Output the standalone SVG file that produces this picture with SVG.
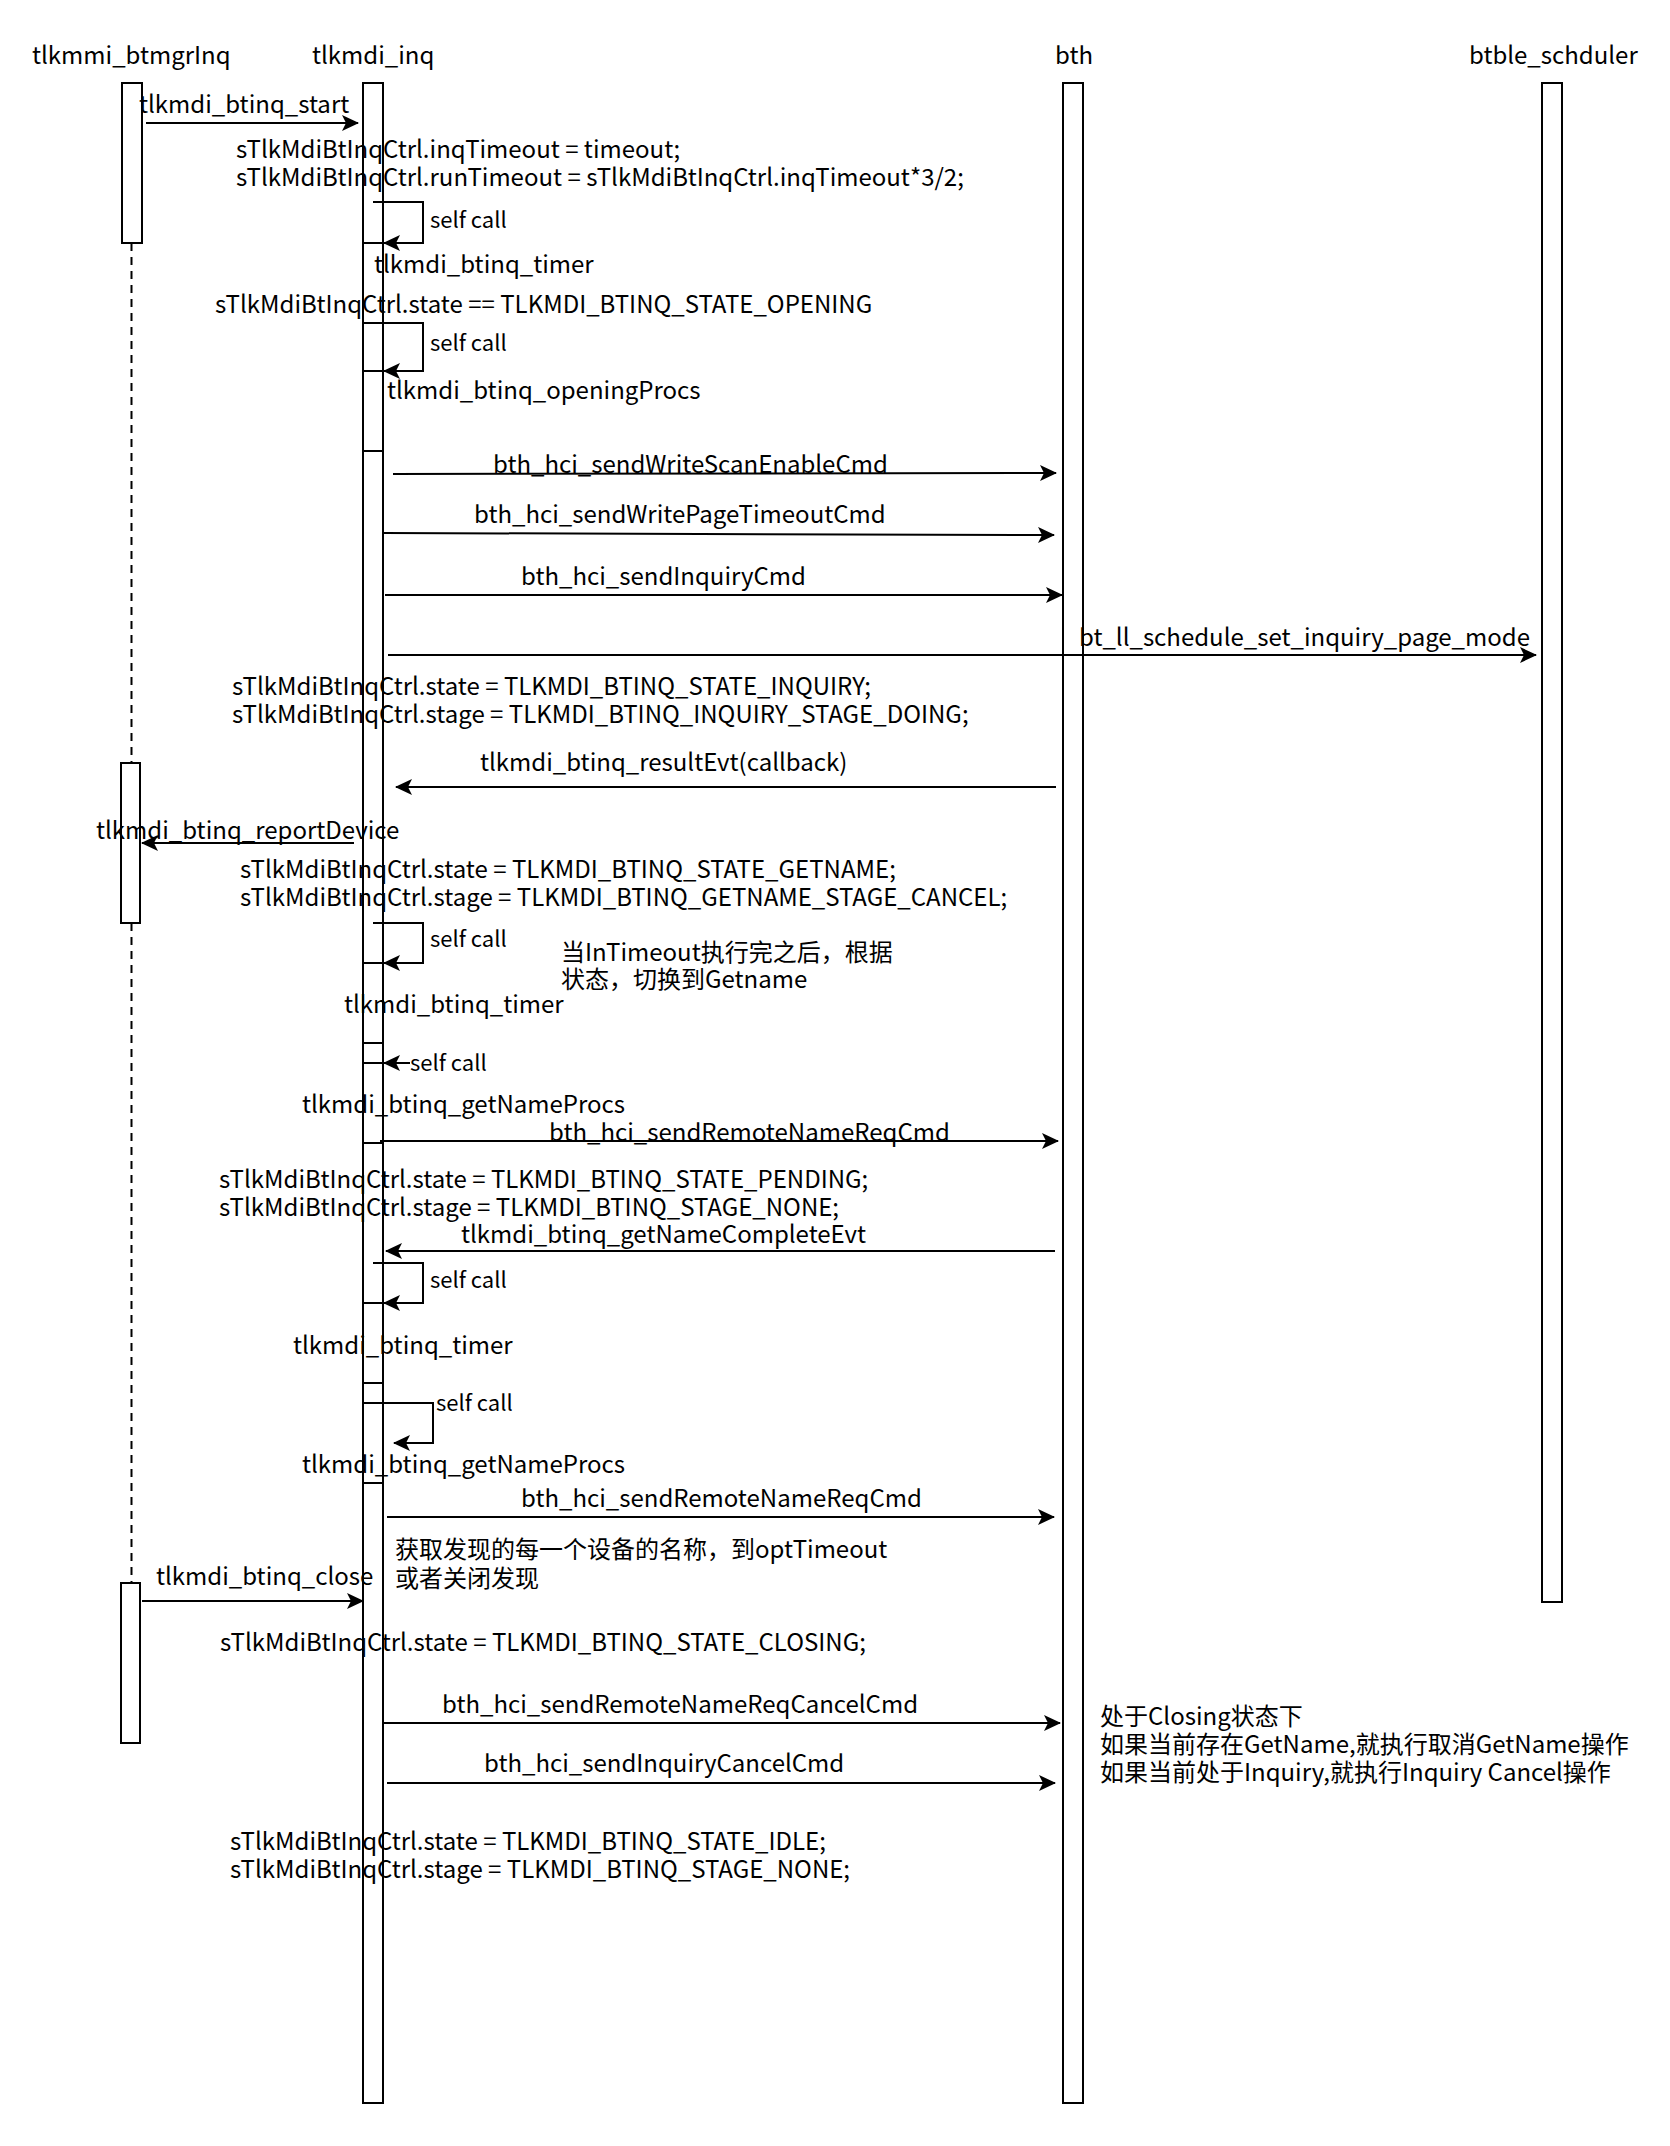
<svg xmlns="http://www.w3.org/2000/svg" width="1670" height="2146" viewBox="0 0 1670 2146">
<defs>
<style>
text{font-family:"Noto Sans CJK SC","Noto Sans",sans-serif;font-size:24px;fill:#000;}
text.sc{font-size:22px;}
.box{fill:#fff;stroke:#000;stroke-width:2;}
.div{stroke:#000;stroke-width:2;fill:none;}
.msg{stroke:#000;stroke-width:2;fill:none;marker-end:url(#arr);}
.life{stroke:#000;stroke-width:2;stroke-dasharray:8 6;fill:none;}
</style>
<marker id="arr" viewBox="0 0 17 16" refX="16" refY="8" markerWidth="17" markerHeight="16" markerUnits="userSpaceOnUse" orient="auto">
<path d="M0,0 L17,8 L0,16 L4,8 Z" fill="#000"/>
</marker>
</defs>
<rect width="1670" height="2146" fill="#fff"/>

<g id="tlkmmi_btmgrInq">
<text x="32" y="64">tlkmmi_btmgrInq</text>
<rect class="box" x="122" y="83" width="20" height="160"/>
<line class="life" x1="131.5" y1="243" x2="131.5" y2="763"/>
<rect class="box" x="121" y="763" width="19" height="160"/>
<line class="life" x1="131.5" y1="923" x2="131.5" y2="1583"/>
<rect class="box" x="121" y="1583" width="19" height="160"/>
</g>

<g id="tlkmdi_inq">
<text x="312" y="64">tlkmdi_inq</text>
<rect class="box" x="363" y="83" width="20" height="2020"/>
<path class="div" d="M363,243H383M363,323H383M363,371H383M363,451H383M363,963H383M363,1043H383M363,1063H383M363,1143H383M363,1303H383M363,1383H383M363,1403H383M363,1483H383"/>
</g>

<g id="bth">
<text x="1055" y="64">bth</text>
<rect class="box" x="1063" y="83" width="20" height="2020"/>
</g>

<g id="btble_schduler">
<text x="1469" y="64">btble_schduler</text>
<rect class="box" x="1542" y="83" width="20" height="1519"/>
</g>

<g id="connectors">
<path class="msg" d="M146,123H358"/>
<path class="msg" d="M373,202H423V243H384"/>
<path class="msg" d="M363,323H423V371H384"/>
<path class="msg" d="M393,474L1056,473"/>
<path class="msg" d="M384,533L1054,535"/>
<path class="msg" d="M385,595H1062"/>
<path class="msg" d="M388,655H1536"/>
<path class="msg" d="M1056,787H396"/>
<path class="msg" d="M354,843H142"/>
<path class="msg" d="M373,923H423V963H384"/>
<path class="msg" d="M410,1063H384"/>
<path class="msg" d="M380,1141H1058"/>
<path class="msg" d="M1055,1251H386"/>
<path class="msg" d="M373,1263H423V1303H384"/>
<path class="msg" d="M363,1403H433V1443H394"/>
<path class="msg" d="M387,1517H1054"/>
<path class="msg" d="M142,1601H363"/>
<path class="msg" d="M382,1723H1060"/>
<path class="msg" d="M387,1783H1055"/>
</g>

<g id="labels">
<text x="139" y="113">tlkmdi_btinq_start</text>
<text x="236" y="158">sTlkMdiBtInqCtrl.inqTimeout = timeout;</text>
<text x="236" y="186">sTlkMdiBtInqCtrl.runTimeout = sTlkMdiBtInqCtrl.inqTimeout*3/2;</text>
<text class="sc" x="430" y="228">self call</text>
<text x="374" y="273">tlkmdi_btinq_timer</text>
<text x="215" y="313">sTlkMdiBtInqCtrl.state == TLKMDI_BTINQ_STATE_OPENING</text>
<text class="sc" x="430" y="351">self call</text>
<text x="387" y="399">tlkmdi_btinq_openingProcs</text>
<text x="493" y="473">bth_hci_sendWriteScanEnableCmd</text>
<text x="474" y="523">bth_hci_sendWritePageTimeoutCmd</text>
<text x="521" y="585">bth_hci_sendInquiryCmd</text>
<text x="1079" y="646">bt_ll_schedule_set_inquiry_page_mode</text>
<text x="232" y="695">sTlkMdiBtInqCtrl.state = TLKMDI_BTINQ_STATE_INQUIRY;</text>
<text x="232" y="723">sTlkMdiBtInqCtrl.stage = TLKMDI_BTINQ_INQUIRY_STAGE_DOING;</text>
<text x="480" y="771">tlkmdi_btinq_resultEvt(callback)</text>
<text x="96" y="839">tlkmdi_btinq_reportDevice</text>
<text x="240" y="878">sTlkMdiBtInqCtrl.state = TLKMDI_BTINQ_STATE_GETNAME;</text>
<text x="240" y="906">sTlkMdiBtInqCtrl.stage = TLKMDI_BTINQ_GETNAME_STAGE_CANCEL;</text>
<text class="sc" x="430" y="947">self call</text>
<text x="561" y="961">当InTimeout执行完之后，根据</text>
<text x="561" y="988">状态，切换到Getname</text>
<text x="344" y="1013">tlkmdi_btinq_timer</text>
<text class="sc" x="410" y="1071">self call</text>
<text x="302" y="1113">tlkmdi_btinq_getNameProcs</text>
<text x="549" y="1141">bth_hci_sendRemoteNameReqCmd</text>
<text x="219" y="1188">sTlkMdiBtInqCtrl.state = TLKMDI_BTINQ_STATE_PENDING;</text>
<text x="219" y="1216">sTlkMdiBtInqCtrl.stage = TLKMDI_BTINQ_STAGE_NONE;</text>
<text x="461" y="1243">tlkmdi_btinq_getNameCompleteEvt</text>
<text class="sc" x="430" y="1288">self call</text>
<text x="293" y="1354">tlkmdi_btinq_timer</text>
<text class="sc" x="436" y="1411">self call</text>
<text x="302" y="1473">tlkmdi_btinq_getNameProcs</text>
<text x="521" y="1507">bth_hci_sendRemoteNameReqCmd</text>
<text x="395" y="1558">获取发现的每一个设备的名称，到optTimeout</text>
<text x="395" y="1587">或者关闭发现</text>
<text x="156" y="1585">tlkmdi_btinq_close</text>
<text x="220" y="1651">sTlkMdiBtInqCtrl.state = TLKMDI_BTINQ_STATE_CLOSING;</text>
<text x="442" y="1713">bth_hci_sendRemoteNameReqCancelCmd</text>
<text x="484" y="1772">bth_hci_sendInquiryCancelCmd</text>
<text x="1100" y="1725">处于Closing状态下</text>
<text x="1100" y="1753">如果当前存在GetName,就执行取消GetName操作</text>
<text x="1100" y="1781">如果当前处于Inquiry,就执行Inquiry Cancel操作</text>
<text x="230" y="1850">sTlkMdiBtInqCtrl.state = TLKMDI_BTINQ_STATE_IDLE;</text>
<text x="230" y="1878">sTlkMdiBtInqCtrl.stage = TLKMDI_BTINQ_STAGE_NONE;</text>
</g>
</svg>
